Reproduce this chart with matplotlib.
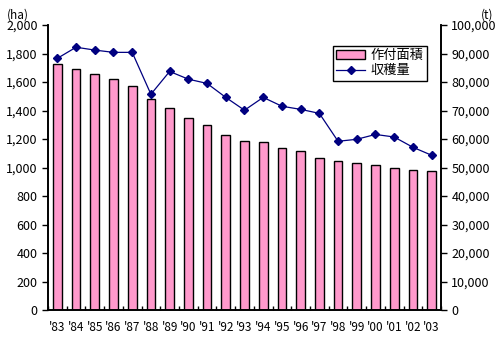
import numpy as np
import matplotlib
matplotlib.use("Agg")
import matplotlib.pyplot as plt
from matplotlib.ticker import FuncFormatter

plt.rcParams['font.family'] = ['Noto Sans CJK JP', 'DejaVu Sans']

years = ["'83", "'84", "'85", "'86", "'87", "'88", "'89", "'90", "'91", "'92", "'93",
         "'94", "'95", "'96", "'97", "'98", "'99", "'00", "'01", "'02", "'03"]
area_ha = [1725, 1690, 1655, 1620, 1570, 1480, 1420, 1350, 1300, 1225, 1185,
           1180, 1135, 1115, 1070, 1045, 1035, 1015, 995, 980, 975]
harvest_t = [88300, 92200, 91200, 90400, 90400, 75700, 83700, 81000, 79500, 74600, 70100,
             74600, 71500, 70400, 69000, 59200, 59900, 61600, 60700, 57100, 54300]

fig = plt.figure(figsize=(5.03, 3.43), dpi=100)
ax = fig.add_axes([0.0954, 0.0962, 0.7813, 0.8309])
ax2 = ax.twinx()

x = np.arange(len(years))
bars = ax.bar(x, area_ha, width=0.47, color="#FF99CC", edgecolor="black", linewidth=1, label="作付面積")
line, = ax2.plot(x, harvest_t, color="#000080", linewidth=0.9, marker="D", markersize=4.5,
                 markerfacecolor="#000080", label="収穫量")

ax.set_xlim(-0.5, len(years) - 0.5)
ax.set_ylim(0, 2000)
ax2.set_ylim(0, 100000)
ax.set_yticks(np.arange(0, 2001, 200))
ax2.set_yticks(np.arange(0, 100001, 10000))
comma = FuncFormatter(lambda v, p: f"{int(v):,}")
ax.yaxis.set_major_formatter(comma)
ax2.yaxis.set_major_formatter(comma)

ax.set_xticks(x)
ax.set_xticklabels(years)
ax.set_xticks(np.arange(-0.5, len(years), 1), minor=True)
ax.tick_params(axis="x", which="major", length=0, pad=8, labelsize=8.5)
ax.tick_params(axis="x", which="minor", direction="in", length=3, width=1)
ax.tick_params(axis="y", direction="out", length=4, width=1, labelsize=9)
ax2.tick_params(axis="y", direction="out", length=4, width=1, labelsize=9)

for a in (ax, ax2):
    a.spines["top"].set_visible(False)
    for s in ("left", "right", "bottom"):
        a.spines[s].set_linewidth(1.2)

fig.text(0.014, 0.957, "(ha)", fontsize=8.5, ha="left", va="center")
fig.text(0.98, 0.957, "(t)", fontsize=8.5, ha="right", va="center")

leg = fig.legend([bars, line], ["作付面積", "収穫量"], loc="upper left",
                 bbox_to_anchor=(0.662, 0.866), fontsize=9.5, frameon=True, fancybox=False,
                 edgecolor="black", framealpha=1, borderpad=0.25, labelspacing=0.15,
                 handlelength=2.2, handletextpad=0.4, borderaxespad=0)
leg.get_frame().set_linewidth(1)

fig.savefig("out.png", dpi=100)
